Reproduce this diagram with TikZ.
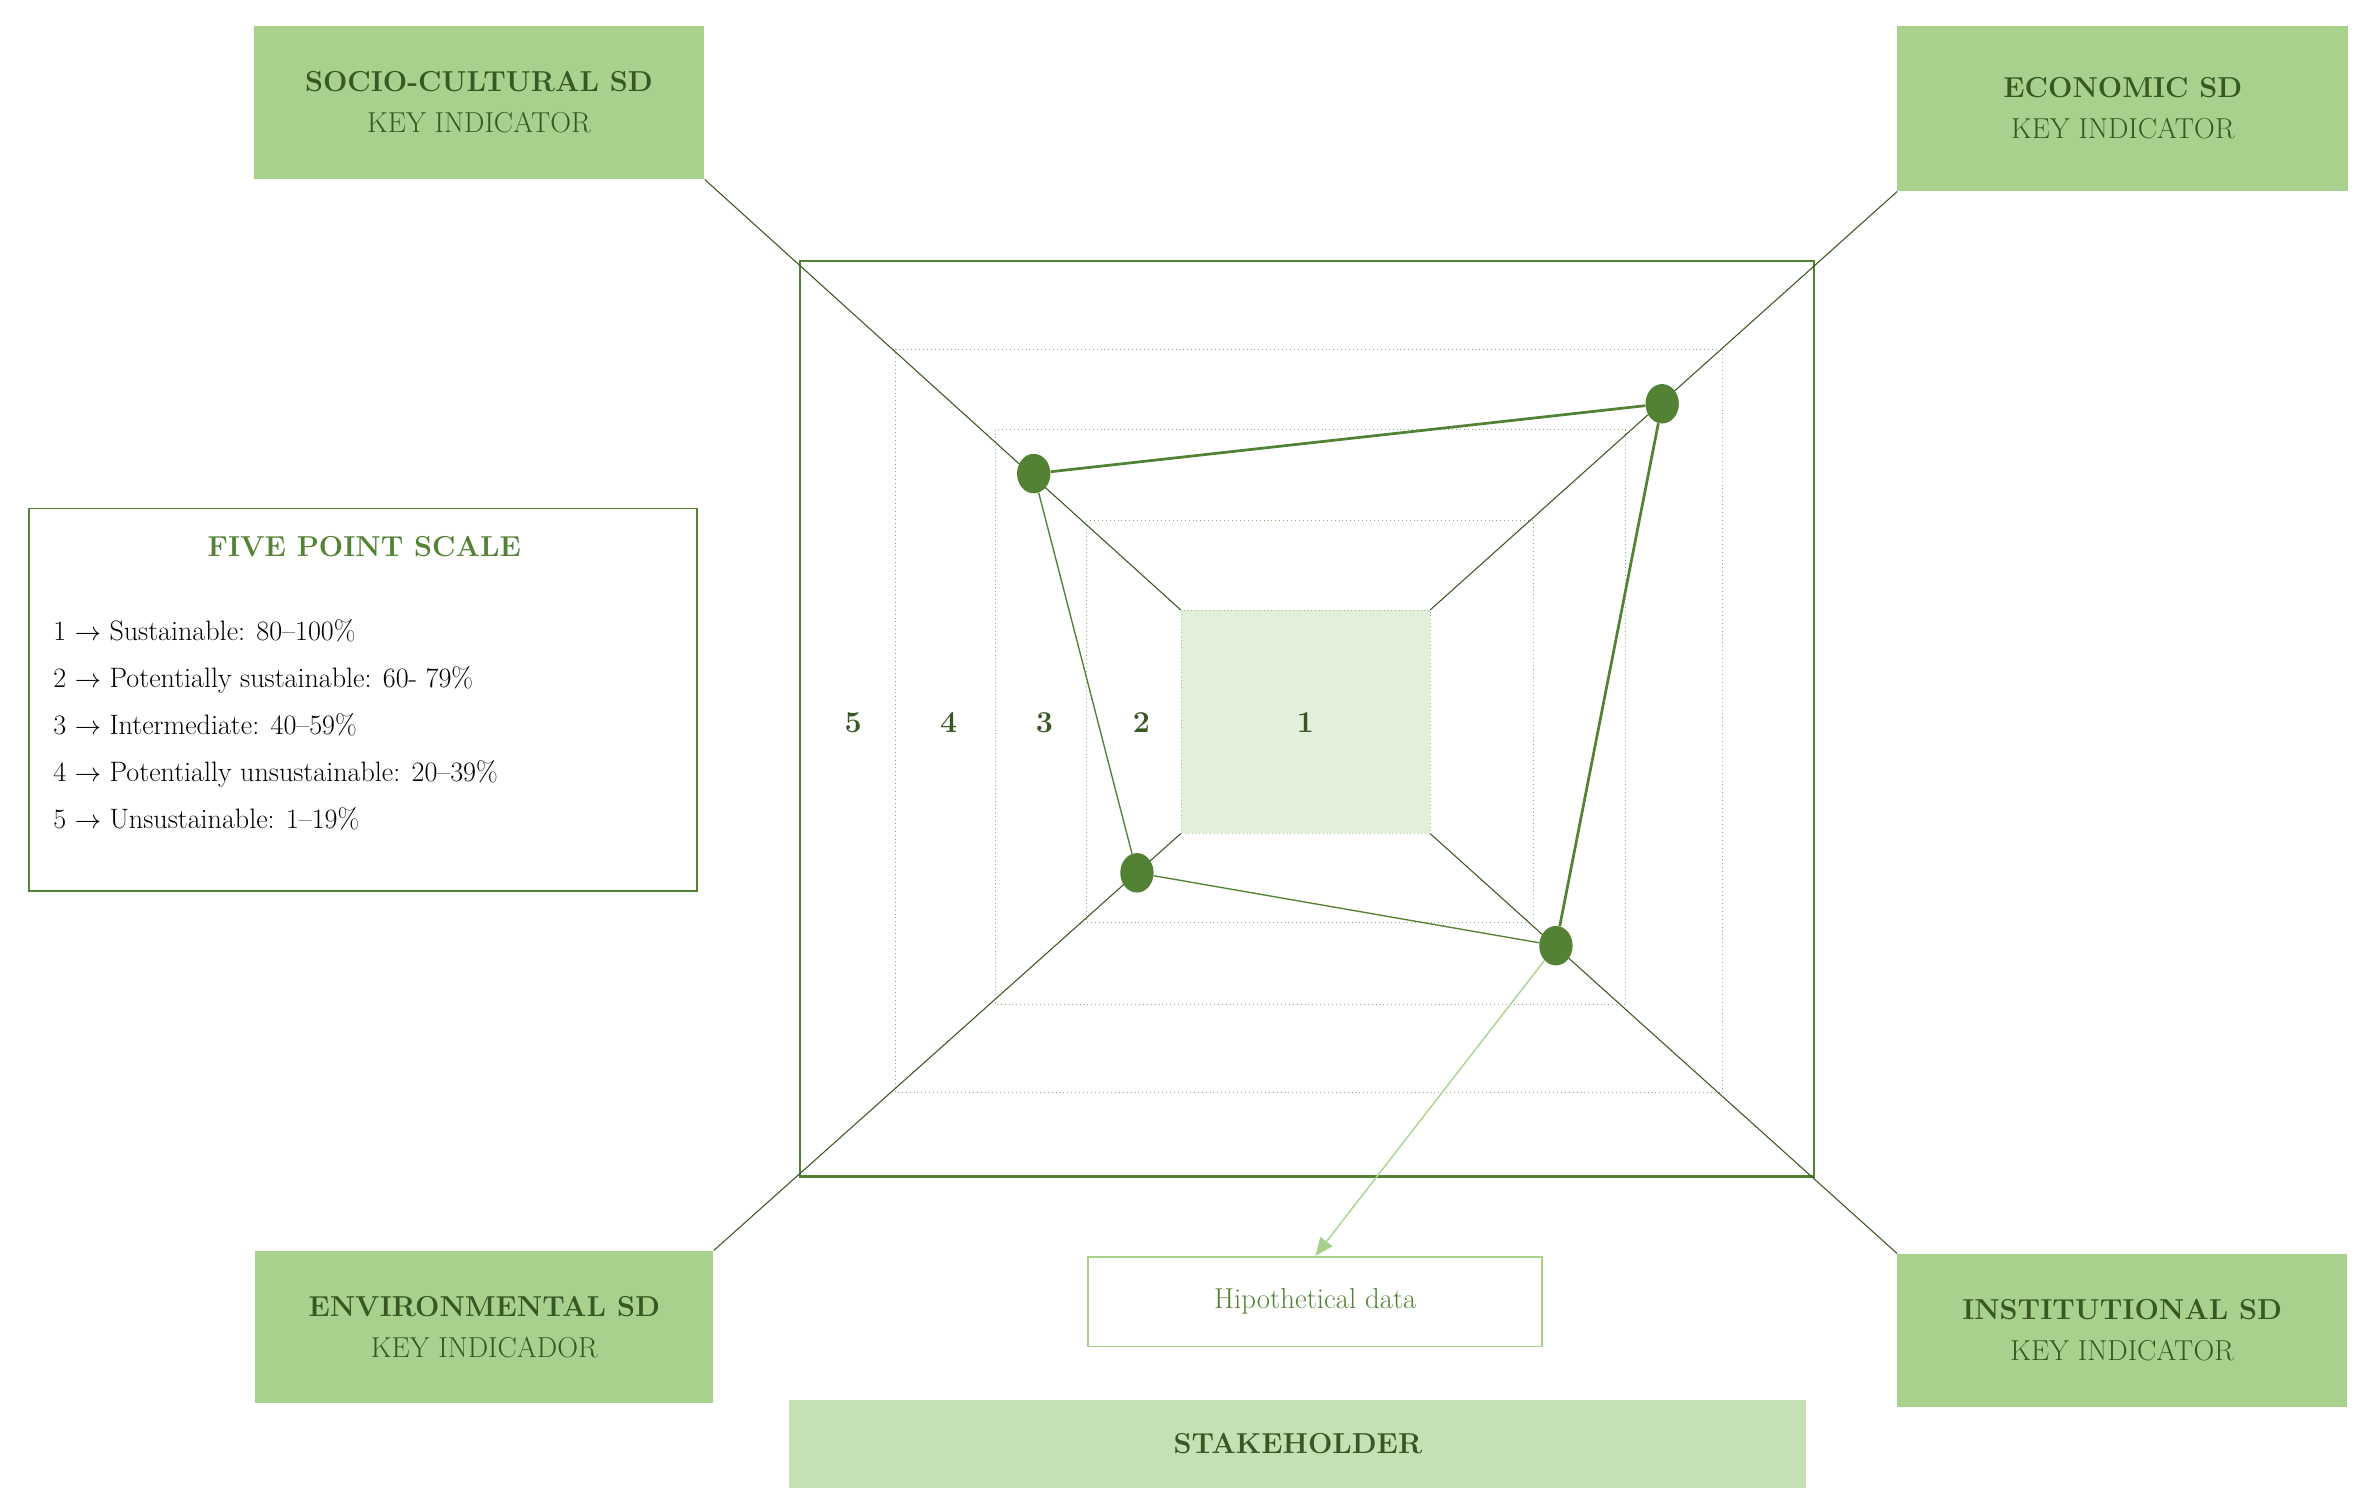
\documentclass[tikz,border=0pt]{standalone}
\usetikzlibrary{arrows.meta,shapes.geometric}
\definecolor{boxg}{HTML}{A9D18E}
\definecolor{dk}{HTML}{385723}
\definecolor{mid}{HTML}{548235}
\definecolor{lt}{HTML}{E2EFDA}
\definecolor{stk}{HTML}{C5E0B4}
\begin{document}
\begin{tikzpicture}[x=1pt,y=-1pt,
  key/.style={fill=boxg,draw=none,align=center,text=dk,font=\fontsize{19}{27}\selectfont},
  dot/.style={ellipse,fill=mid,minimum width=22pt,minimum height=26pt,inner sep=0pt},
  dl/.style={draw=mid!70,dotted,line width=0.6pt},
  ax/.style={draw=dk,line width=0.7pt},
  lab/.style={text=dk,font=\fontsize{20}{24}\selectfont\bfseries}]
\useasboundingbox (0,0) rectangle (1560,995);
% boxes
\node[key,minimum width=297pt,minimum height=101pt] (sc) at (315.5,67.5) {\textbf{SOCIO-CULTURAL SD}\\KEY INDICATOR};
\node[key,minimum width=297pt,minimum height=109pt] (ec) at (1398.5,71.5) {\textbf{ECONOMIC SD}\\KEY INDICATOR};
\node[key,minimum width=302pt,minimum height=100pt] (en) at (319,874) {\textbf{ENVIRONMENTAL SD}\\KEY INDICADOR};
\node[key,minimum width=296pt,minimum height=101pt] (in) at (1398,876.5) {\textbf{INSTITUTIONAL SD}\\KEY INDICATOR};
% squares
\draw[mid,line width=1.6pt] (527,172) rectangle (1195,775);
\draw[dl] (590,230) rectangle (1135,720);
\draw[dl] (656,283) rectangle (1071,662);
\draw[dl] (716,343) rectangle (1010,608);
\node[fill=lt,draw=mid!50,dotted,minimum width=164pt,minimum height=147pt,inner sep=0pt] (c1) at (860,475.5) {};
% diagonals
\draw[ax] (sc.south east) -- (c1.north west);
\draw[ax] (ec.south west) -- (c1.north east);
\draw[ax] (en.north east) -- (c1.south west);
\draw[ax] (in.north west) -- (c1.south east);
% labels
\node[lab] (l5) at (562,476) {5};
\node[lab] (l4) at (625,476) {4};
\node[lab] (l3) at (688,476) {3};
\node[lab] (l2) at (752,476) {2};
\node[lab] (l1) at (860,476) {1};
% data points
\node[dot] (ps) at (681,312) {};
\node[dot] (pe) at (1095,266) {};
\node[dot] (pi) at (1025,623) {};
\node[dot] (pv) at (749,575) {};
\draw[mid,line width=1.8pt] (ps) -- (pe) -- (pi);
\draw[mid,line width=0.9pt] (ps) -- (pv) -- (pi);
% hypothetical
\node[draw=boxg,line width=1.2pt,minimum width=299pt,minimum height=59pt,text=mid,font=\fontsize{19}{24}\selectfont] (hy) at (866.5,857.5) {Hipothetical data};
\draw[boxg,line width=0.9pt,-{Triangle[length=12pt,width=10pt]}] (pi) -- (hy.north);
\node[fill=stk,minimum width=670pt,minimum height=58pt,text=dk,font=\fontsize{19}{24}\selectfont\bfseries] (st) at (855,951) {STAKEHOLDER};
% scale box
\node[draw=mid,line width=1.2pt,minimum width=440pt,minimum height=252pt] (fs) at (239,461) {};
\node[text=mid,font=\fontsize{19}{24}\selectfont\bfseries] (ft) at (240,360) {FIVE POINT SCALE};
\node[anchor=north west,align=left,text=black,font=\fontsize{18.5}{31}\selectfont,inner sep=0pt] (fl) at (35,408) {%
1 $\rightarrow$ Sustainable: 80--100\%\\
2 $\rightarrow$ Potentially sustainable: 60- 79\%\\
3 $\rightarrow$ Intermediate: 40--59\%\\
4 $\rightarrow$ Potentially unsustainable: 20--39\%\\
5 $\rightarrow$ Unsustainable: 1--19\%};
\end{tikzpicture}
\end{document}
